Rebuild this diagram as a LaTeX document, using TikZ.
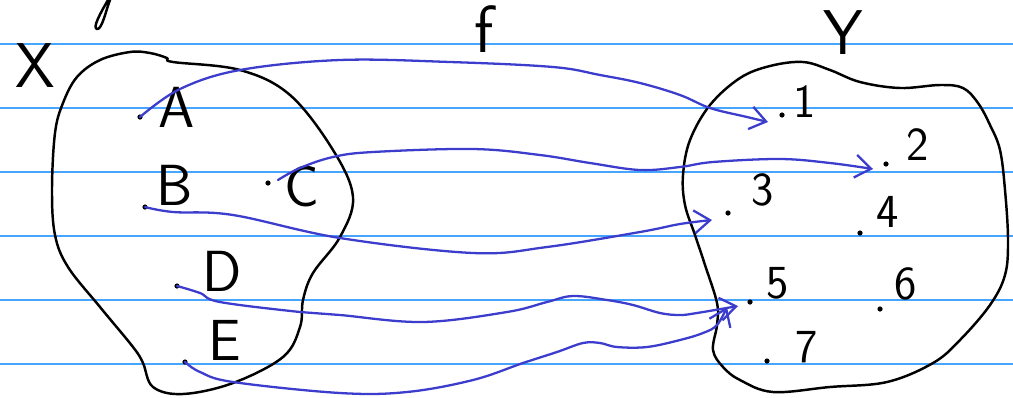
\documentclass[tikz,border=0pt]{standalone}
\usetikzlibrary{arrows.meta}
\definecolor{penblue}{RGB}{60,60,205}
\definecolor{ruleblue}{RGB}{70,165,255}

\begin{document}
\begin{tikzpicture}[x=0.02cm, y=-0.02cm,
    pen/.style={line width=1.4pt, line cap=round, line join=round},
    map/.style={line width=1.3pt, line cap=round, line join=round, penblue,
      -{Straight Barb[length=9pt, width=13pt]}},
    hand/.style={font=\sffamily\fontsize{33}{35}\selectfont, inner sep=0pt},
    digit/.style={font=\sffamily\fontsize{27}{29}\selectfont, inner sep=0pt}]
  \useasboundingbox (0,0) rectangle (1013,397);
  \foreach \y in {44,108,172,236,300,364}
    \draw[line width=0.8pt, ruleblue] (0,\y) -- (1013,\y);

  % the two sets
  \draw[pen] plot[smooth cycle, tension=0.6] coordinates {(130,52) (150,53) (167,58) (173,62)
    (240,70) (290,95) (333,150) (353,197) (340,237) (313,273) (303,300) (300,327) (283,357)
    (233,383) (183,394) (153,387) (143,363) (133,347) (100,307) (68,267) (55,235) (52,190)
    (55,133) (63,103) (77,77) (100,60)};
  \draw[pen] plot[smooth cycle, tension=0.6] coordinates {(803,62) (830,70) (860,82) (900,88)
    (940,85) (963,88) (978,103) (990,125) (1000,150) (1005,190) (1008,240) (1005,275)
    (990,305) (960,340) (933,363) (887,382) (830,387) (773,392) (740,380) (723,367)
    (713,350) (717,325) (717,303) (705,265) (695,235) (685,205) (683,175) (690,140)
    (710,105) (740,78) (770,66)};
  \draw[pen] (108,0) .. controls (101,12) and (92,28) .. (97,29) .. controls (102,30) and (106,10) .. (110,0);

  \node[hand, font=\sffamily\fontsize{36}{38}\selectfont] (nameX) at (35,66) {X};
  \node[hand, font=\sffamily\fontsize{36}{38}\selectfont] (nameY) at (843,33) {Y};
  \node[hand, font=\sffamily\fontsize{38}{40}\selectfont] (namef) at (484,29) {f};

  % points of X
  \foreach \p/\x/\y in {A/140/117, B/145/207, C/268/183, D/177/286, E/185/362}
    \coordinate (p\p) at (\x,\y);
  \foreach \p in {A,B,C,D,E}
    \fill (p\p) circle (2.6);
  \node[hand] (labA) at (177,107) {A};
  \node[hand] (labB) at (175,185) {B};
  \node[hand] (labC) at (302,187) {C};
  \node[hand] (labD) at (222,271) {D};
  \node[hand] (labE) at (225,340) {E};

  % points of Y
  \foreach \p/\x/\y in {1/782/115, 2/886/164, 3/728/213, 4/860/233, 5/750/302, 6/880/309, 7/767/361}
    \coordinate (q\p) at (\x,\y);
  \foreach \p in {1,...,7}
    \fill (q\p) circle (2.6);
  \node[digit] (lab1) at (805,102) {1};
  \node[digit] (lab2) at (918,145) {2};
  \node[digit] (lab3) at (763,190) {3};
  \node[digit] (lab4) at (888,212) {4};
  \node[digit] (lab5) at (778,283) {5};
  \node[digit] (lab6) at (906,284) {6};
  \node[digit] (lab7) at (807,347) {7};

  % the arrow ends
  \coordinate (t1) at (768,122);
  \coordinate (t2) at (873,169);
  \coordinate (t3) at (712,220);
  \coordinate (t5a) at (738,306);
  \coordinate (t5b) at (727,307);

  \draw[map] plot[smooth, tension=0.6] coordinates {(pA) (180,89) (240,70) (340,60) (450,62)
    (553,67) (600,75) (640,83) (680,95) (710,108) (747,117) (t1)};
  \draw[map] plot[smooth, tension=0.6] coordinates {(278,180) (300,168) (333,157) (373,152)
    (473,149) (540,155) (590,163) (640,170) (680,167) (713,162) (780,159) (830,163) (t2)};
  \draw[map] plot[smooth, tension=0.6] coordinates {(pB) (173,212) (233,215) (340,238)
    (473,253) (547,247) (640,232) (680,224) (t3)};
  \draw[map] plot[smooth, tension=0.6] coordinates {(pD) (200,293) (220,302) (300,312)
    (340,315) (423,322) (507,312) (547,302) (573,296) (607,300) (633,305) (660,313)
    (680,315) (697,313) (t5a)};
  \draw[map] plot[smooth, tension=0.6] coordinates {(pE) (200,372) (233,382) (340,393)
    (407,392) (473,380) (523,363) (557,352) (583,343) (600,343) (617,347) (647,347)
    (680,340) (703,333) (717,325) (t5b)};
\end{tikzpicture}
\end{document}
